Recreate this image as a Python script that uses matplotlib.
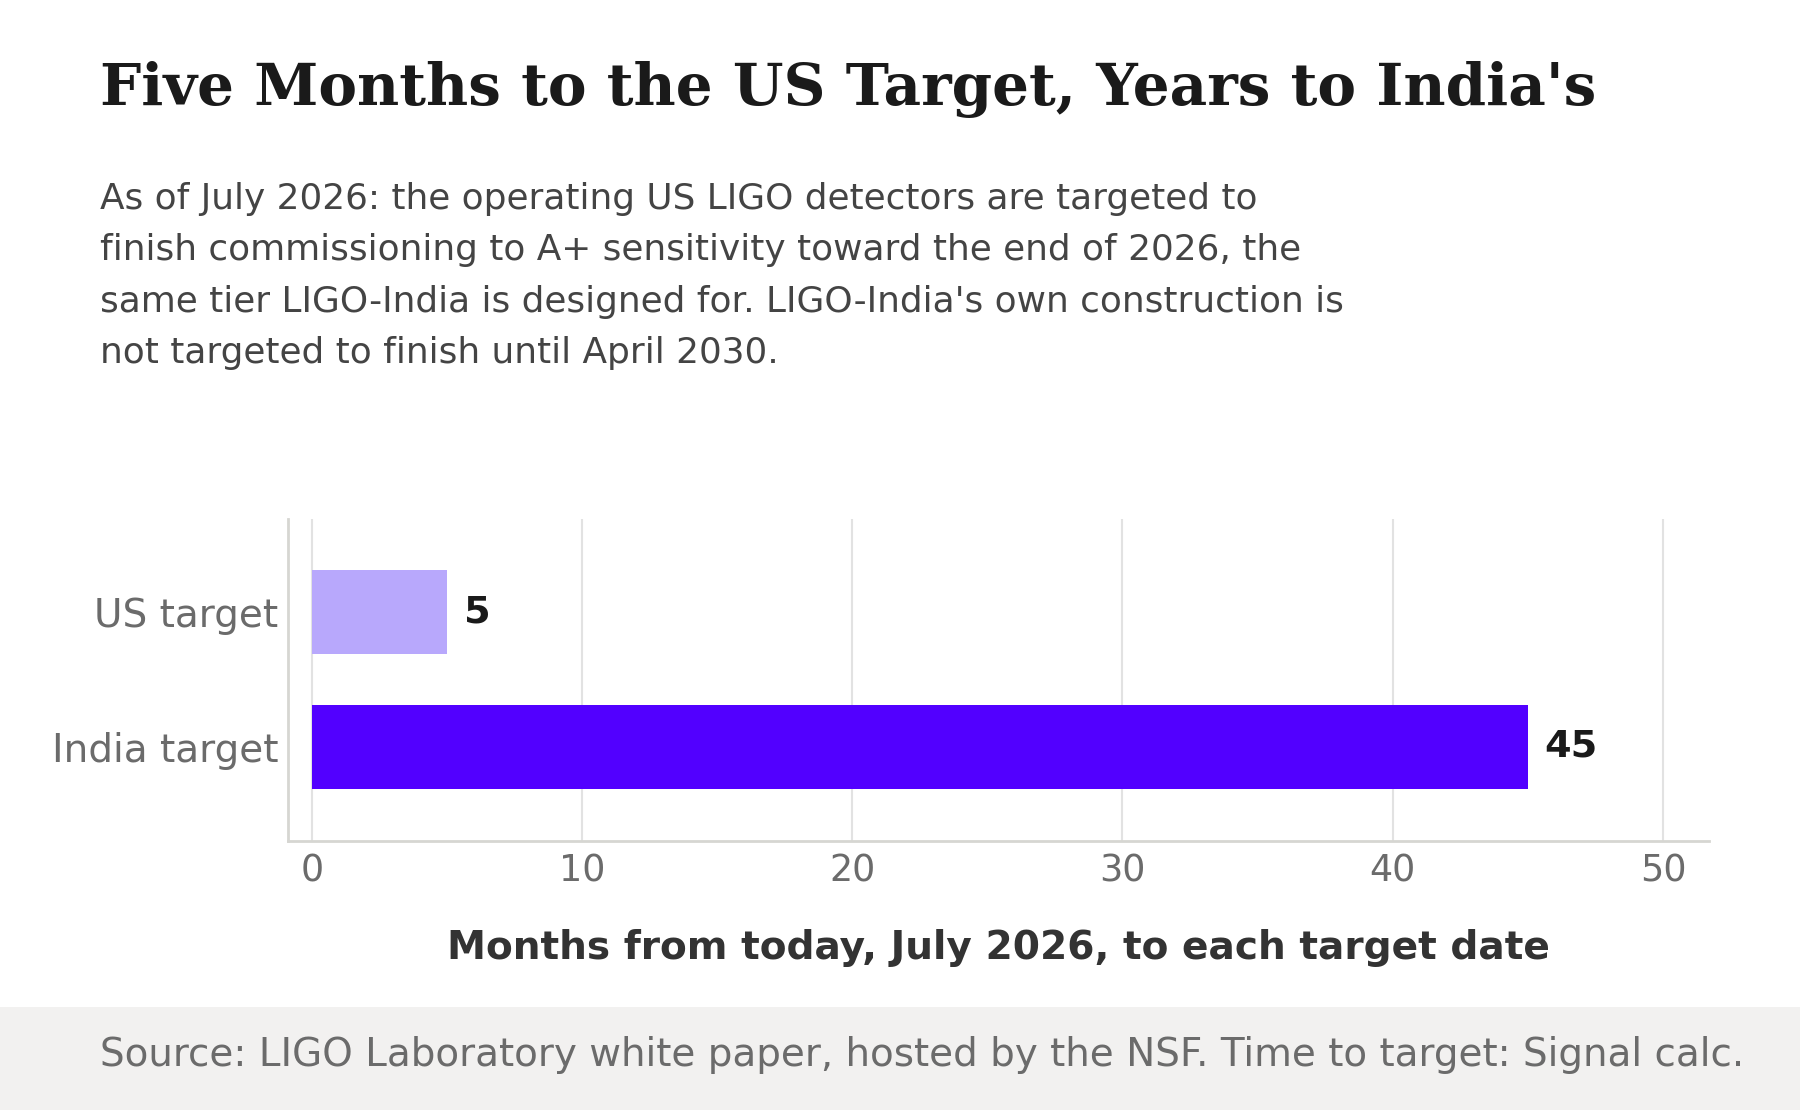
import matplotlib
matplotlib.use('Agg')
import matplotlib.pyplot as plt
from matplotlib.patches import Rectangle

categories = ['India target', 'US target']
months = [45, 5]
bar_colors = ['#5200ff', '#b8a8fc']
xticks = [0, 10, 20, 30, 40, 50]

title = "Five Months to the US Target, Years to India's"
subtitle = ("As of July 2026: the operating US LIGO detectors are targeted to\n"
            "finish commissioning to A+ sensitivity toward the end of 2026, the\n"
            "same tier LIGO-India is designed for. LIGO-India's own construction is\n"
            "not targeted to finish until April 2030.")
xlabel = 'Months from today, July 2026, to each target date'
source = 'Source: LIGO Laboratory white paper, hosted by the NSF. Time to target: Signal calc.'

fig = plt.figure(figsize=(18, 11.1), dpi=100)
fig.patch.set_facecolor('white')

# footer band
fig.patches.append(Rectangle((0, 0), 1, 103 / 1110, transform=fig.transFigure,
                             facecolor='#f2f1f0', edgecolor='none', zorder=0))

ax = fig.add_axes([0.16, 0.2423, 0.7894, 0.29])

ypos = list(range(len(categories)))
bars = ax.barh(ypos, months, height=0.62, color=bar_colors, zorder=3)

for y, v in zip(ypos, months):
    ax.annotate(str(v), xy=(v, y), xytext=(12, 0), textcoords='offset points',
                va='center', ha='left', fontsize=27.5, fontweight='bold', color='#1a1a1a')

ax.set_xlim(-0.88, 51.7)
ax.set_ylim(-0.7, 1.69)
ax.set_xticks(xticks)
ax.set_yticks(ypos)
ax.set_yticklabels(categories)

ax.grid(axis='x', color='#e2e2e2', linewidth=1.5, zorder=0)
ax.set_axisbelow(True)
for s in ['top', 'right']:
    ax.spines[s].set_visible(False)
for s in ['left', 'bottom']:
    ax.spines[s].set_color('#d6d6d2')
    ax.spines[s].set_linewidth(2)

ax.tick_params(axis='both', length=0, colors='#6b6b6b')
ax.tick_params(axis='y', labelsize=28.1, pad=7)
ax.tick_params(axis='x', labelsize=26.3, pad=8)

ax.set_xlabel(xlabel, fontsize=28.2, fontweight='bold', color='#333333', labelpad=29)

fig.text(100 / 1800, 1 - 105 / 1110, title, fontsize=41.8, fontweight='bold',
         family='DejaVu Serif', color='#1a1a1a', va='baseline', ha='left')
fig.text(100 / 1800, 1 - 182 / 1110, subtitle, fontsize=25.8, color='#444444',
         va='top', ha='left', linespacing=1.64)
fig.text(100 / 1800, 1 - 1055 / 1110, source, fontsize=28, color='#6b6b6b',
         va='center', ha='left')

fig.savefig('out.png', dpi=100)
